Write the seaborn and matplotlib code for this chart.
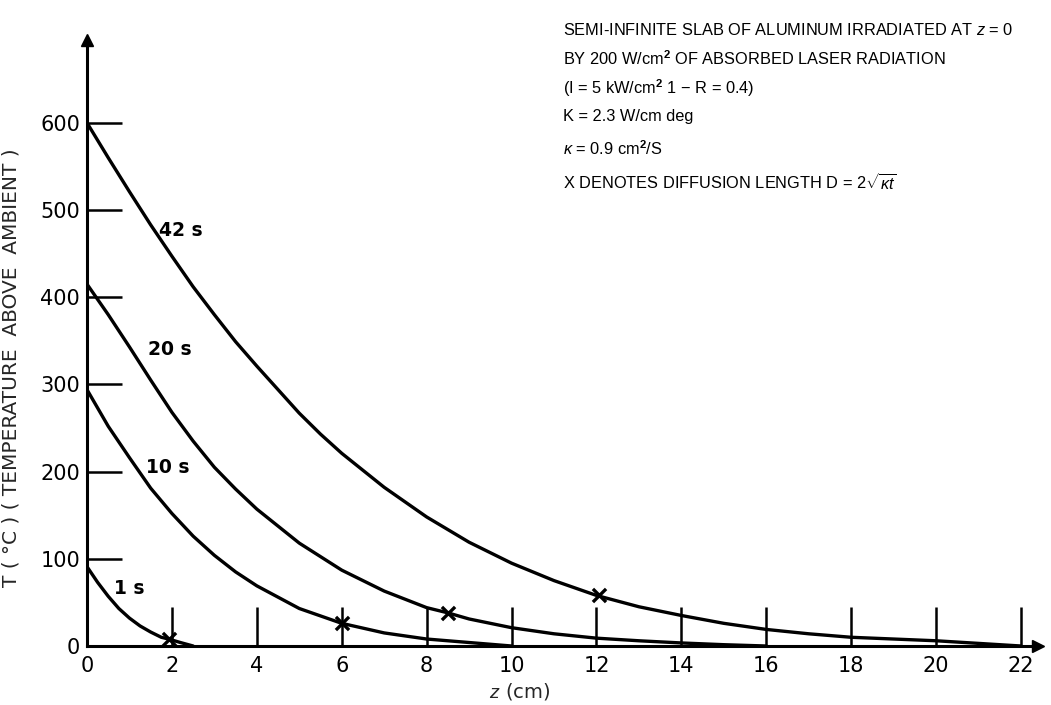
import numpy as np
import pandas as pd
import seaborn as sns
import matplotlib
matplotlib.use("Agg")
import matplotlib.pyplot as plt

# ---- data ----
z_42 = [0, 0.5, 1, 1.5, 2, 2.5, 3, 3.5, 4, 4.5, 5, 5.5, 6, 7, 8, 9, 10, 11, 12, 13, 14, 15, 16, 17, 18, 19, 20, 21, 22]
T_42 = [600, 560, 521, 483, 447, 412, 380, 349, 321, 294, 267, 243, 221, 182, 148, 119, 95, 75, 58, 45, 35, 26, 19, 14, 10, 8, 6, 3, 0]

z_20 = [0, 0.5, 1, 1.5, 2, 2.5, 3, 3.5, 4, 5, 6, 7, 8, 8.5, 9, 10, 11, 12, 13, 14, 15, 16]
T_20 = [415, 380, 343, 305, 268, 235, 205, 180, 157, 118, 87, 63, 44, 38, 31, 21, 14, 9, 6, 3.5, 1.5, 0]

z_10 = [0, 0.5, 1, 1.5, 2, 2.5, 3, 3.5, 4, 5, 6, 7, 8, 9, 10]
T_10 = [294, 252, 216, 181, 152, 126, 104, 85, 69, 43, 26, 15, 8, 4, 0]

z_1 = [0, 0.25, 0.5, 0.75, 1, 1.25, 1.5, 1.75, 1.92, 2.2, 2.5]
T_1 = [91, 73, 57, 43, 32, 23, 16, 10, 8, 4, 0]

curve_labels = ["42 s", "20 s", "10 s", "1 s"]
label_z = [2.2, 1.95, 1.9, 1.0]
label_T = [477, 340, 205, 66]

mark_z = [1.92, 6.0, 8.5, 12.05]
mark_T = [8, 26, 38, 58]

x_ticks = [0, 2, 4, 6, 8, 10, 12, 14, 16, 18, 20, 22]
y_ticks = [0, 100, 200, 300, 400, 500, 600]

notes = [
    r"SEMI-INFINITE SLAB OF ALUMINUM IRRADIATED AT $z$ = 0",
    r"BY 200 W/cm$^\mathbf{2}$ OF ABSORBED LASER RADIATION",
    r"(I = 5 kW/cm$^\mathbf{2}$ 1 $-$ R = 0.4)",
    r"K = 2.3 W/cm deg",
    r"$\kappa$ = 0.9 cm$^\mathbf{2}$/S",
    r"X DENOTES DIFFUSION LENGTH D = 2$\sqrt{\kappa t}$",
]

# ---- build frame ----
frames = []
for name, zs, ts in [("42 s", z_42, T_42), ("20 s", z_20, T_20),
                     ("10 s", z_10, T_10), ("1 s", z_1, T_1)]:
    frames.append(pd.DataFrame({"z": zs, "T": ts, "t": name}))
df = pd.concat(frames, ignore_index=True)

sns.set_theme(style="white")
plt.rcParams["font.family"] = ["Liberation Sans", "DejaVu Sans"]
plt.rcParams["mathtext.fontset"] = "custom"
plt.rcParams["mathtext.rm"] = "Liberation Sans"
plt.rcParams["mathtext.it"] = "Liberation Sans:italic"
plt.rcParams["mathtext.bf"] = "Liberation Sans:bold"

fig = plt.figure(figsize=(10.51, 7.05), dpi=100)
ax = fig.add_axes([87 / 1051, 59 / 705, 951 / 1051, 606 / 705])

sns.lineplot(data=df, x="z", y="T", units="t", estimator=None, color="black",
             linewidth=2.4, ax=ax, legend=False, sort=False)
sns.scatterplot(x=mark_z, y=mark_T, marker="x", color="black", s=90,
                linewidth=2.4, ax=ax, zorder=5)

ax.set_xlim(0, 22.4)
ax.set_ylim(0, 695)
ax.set_xticks(x_ticks)
ax.set_yticks(y_ticks)
ax.set_xticklabels([str(v) for v in x_ticks], fontsize=15, family="DejaVu Sans")
ax.set_yticklabels([str(v) for v in y_ticks], fontsize=15, family="DejaVu Sans")
ax.tick_params(axis="y", left=True, direction="in", length=25, width=1.8, pad=5, colors="black")
ax.tick_params(axis="x", bottom=True, direction="in", length=28, width=1.8, pad=7, colors="black")

for s in ["top", "right"]:
    ax.spines[s].set_visible(False)
for s in ["left", "bottom"]:
    ax.spines[s].set_color("black")
    ax.spines[s].set_linewidth(2.2)

# axis arrows
ax.plot(0, 1, marker="^", color="black", markersize=8, transform=ax.transAxes, clip_on=False)
ax.plot(1, 0, marker=">", color="black", markersize=8, transform=ax.transAxes, clip_on=False)

ax.set_xlabel(r"$z$ (cm)", fontsize=14, family="DejaVu Sans")
ax.xaxis.set_label_coords(0.455, -0.058)
ax.set_ylabel("T ( °C ) ( TEMPERATURE  ABOVE  AMBIENT )", fontsize=14.5, family="DejaVu Sans")
ax.yaxis.set_label_coords(-0.07, 0.46)

for lab, lz, lt in zip(curve_labels, label_z, label_T):
    ax.text(lz, lt, lab, fontsize=13.5, ha="center", va="center", family="DejaVu Sans",
            fontweight="bold", color="black")

ys = [30, 59, 88, 117, 149, 183]
for txt, yp in zip(notes, ys):
    fig.text(563 / 1051, 1 - yp / 705, txt, fontsize=11.8, ha="left", va="center", color="black")

fig.savefig("out.png", dpi=100, facecolor="white")
